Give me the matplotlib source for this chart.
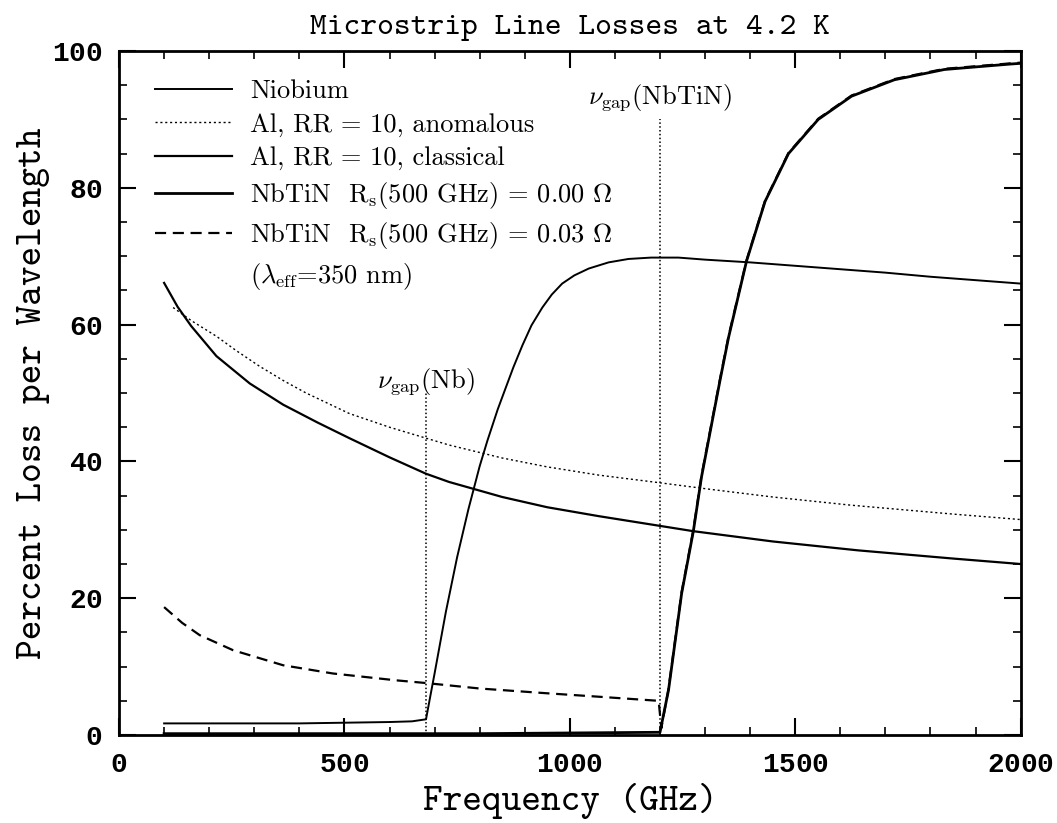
import numpy as np
import matplotlib
matplotlib.use('Agg')
import matplotlib.pyplot as plt

plt.rcParams['mathtext.fontset'] = 'cm'
plt.rcParams['axes.formatter.use_mathtext'] = True
plt.rcParams['axes.unicode_minus'] = False

# values (GHz, percent loss per wavelength)
nb_freq = [100, 200, 300, 400, 500, 600, 650, 681, 690, 700, 725, 750, 775, 800,
           817, 840, 858, 875, 895, 915, 939, 960, 983, 1010, 1042, 1086, 1130,
           1180, 1241, 1300, 1400, 1500, 1600, 1700, 1800, 1900, 2000]
nb_loss = [1.7, 1.7, 1.7, 1.7, 1.8, 1.9, 2.0, 2.3, 5.5, 9.0, 18.0, 26.0, 33.0, 39.3,
           43.0, 47.6, 50.8, 53.8, 57.0, 59.9, 62.5, 64.4, 66.0, 67.2, 68.2, 69.1,
           69.6, 69.8, 69.8, 69.5, 69.1, 68.6, 68.1, 67.6, 67.0, 66.5, 66.0]

al_anom_freq = [120, 160, 216, 260, 312, 365, 415, 511, 600, 681, 732, 850, 950,
                1064, 1197, 1314, 1450, 1624, 1728, 1850, 2000]
al_anom_loss = [62.5, 60.6, 58.3, 56.2, 53.9, 51.8, 50.0, 47.0, 45.0, 43.4, 42.4,
                40.5, 39.2, 38.0, 36.9, 35.9, 34.8, 33.6, 33.0, 32.3, 31.5]

al_class_freq = [100, 130, 160, 216, 290, 364, 440, 511, 600, 681, 732, 850, 950,
                 1064, 1274, 1450, 1639, 1850, 2000]
al_class_loss = [66.1, 62.6, 59.8, 55.4, 51.4, 48.3, 45.7, 43.4, 40.6, 38.2, 37.0,
                 34.8, 33.3, 32.0, 29.8, 28.3, 27.0, 25.8, 25.0]

nbtin0_freq = [100, 400, 800, 1200, 1219, 1248, 1274, 1292, 1333, 1352, 1392, 1433,
               1485, 1551, 1625, 1720, 1831, 1978, 2000]
nbtin0_loss = [0.2, 0.2, 0.2, 0.4, 6.6, 20.7, 29.8, 37.7, 51.8, 58.1, 69.3, 78.0,
               85.0, 90.0, 93.4, 95.8, 97.3, 98.1, 98.2]

nbtin3_freq = [100, 140, 179, 253, 364, 474, 614, 681, 800, 950, 1064, 1197, 1203,
               1219, 1248, 1274, 1292, 1333, 1352, 1392, 1433, 1485, 1551, 1625,
               1720, 1831, 1978, 2000]
nbtin3_loss = [18.7, 16.4, 14.6, 12.4, 10.2, 9.0, 8.0, 7.6, 6.8, 6.1, 5.6, 5.0, 1.0,
               6.8, 20.9, 30.0, 37.9, 52.0, 58.3, 69.4, 78.1, 85.1, 90.1, 93.5,
               95.9, 97.4, 98.2, 98.3]

gap_freqs = [681, 1201]
gap_tops = [50, 90]
gap_labels = [r'$\nu_{\rm gap}$(Nb)', r'$\nu_{\rm gap}$(NbTiN)']
gap_label_y = [49.4, 91.0]

fig = plt.figure(figsize=(10.57, 8.23), dpi=100)
ax = fig.add_axes([0.1126, 0.1069, 0.853, 0.8311])

ax.plot(nb_freq, nb_loss, color='black', lw=1.4, label='Niobium')
ax.plot(al_anom_freq, al_anom_loss, color='black', lw=1.0, ls=(0, (1.5, 2)),
        label='Al, RR = 10, anomalous')
ax.plot(al_class_freq, al_class_loss, color='black', lw=1.6,
        label='Al, RR = 10, classical')
ax.plot(nbtin0_freq, nbtin0_loss, color='black', lw=2.0,
        label=r'NbTiN  R$_{\rm s}$(500 GHz) = 0.00 $\Omega$')
ax.plot(nbtin3_freq, nbtin3_loss, color='black', lw=1.6, ls=(0, (5, 3)),
        label=r'NbTiN  R$_{\rm s}$(500 GHz) = 0.03 $\Omega$')
ax.plot([], [], color='none', label=r'($\lambda_{\rm eff}$=350 nm)')

for f, top, ly, lab in zip(gap_freqs, gap_tops, gap_label_y, gap_labels):
    ax.plot([f, f], [0, top], color='black', lw=1.1, ls=(0, (1, 1.5)))
    ax.text(f, ly, lab, ha='center', va='bottom', fontsize=19, family='cmr10')

ax.set_xlim(0, 2000)
ax.set_ylim(0, 100)
ax.set_xticks([0, 500, 1000, 1500, 2000])
ax.set_xticks(np.arange(0, 2001, 100), minor=True)
ax.set_yticks([0, 20, 40, 60, 80, 100])
ax.set_yticks(np.arange(0, 101, 5), minor=True)
ax.tick_params(axis='both', which='both', direction='in', top=True, right=True)
ax.tick_params(axis='both', which='major', length=12, width=1.5, pad=12)
ax.tick_params(axis='both', which='minor', length=6, width=1.2)
for lab in ax.get_xticklabels() + ax.get_yticklabels():
    lab.set_family('Liberation Mono')
    lab.set_fontweight('bold')
    lab.set_fontsize(20)
for sp in ax.spines.values():
    sp.set_linewidth(2)

ax.set_xlabel('Frequency (GHz)', family='cmtt10', fontsize=27)
ax.xaxis.set_label_coords(0.5, -0.07)
ax.set_ylabel('Percent Loss per Wavelength', family='cmtt10', fontsize=27)
ax.yaxis.set_label_coords(-0.076, 0.5)
ax.set_title('Microstrip Line Losses at 4.2 K', family='cmtt10', fontsize=23,
             pad=12)

leg = ax.legend(loc='upper left', bbox_to_anchor=(0.04, 0.958), frameon=False,
                prop={'family': 'cmr10', 'size': 19}, handlelength=2.9,
                handletextpad=0.7, labelspacing=0.36, borderpad=0,
                borderaxespad=0)

fig.savefig('out.png', dpi=100)
